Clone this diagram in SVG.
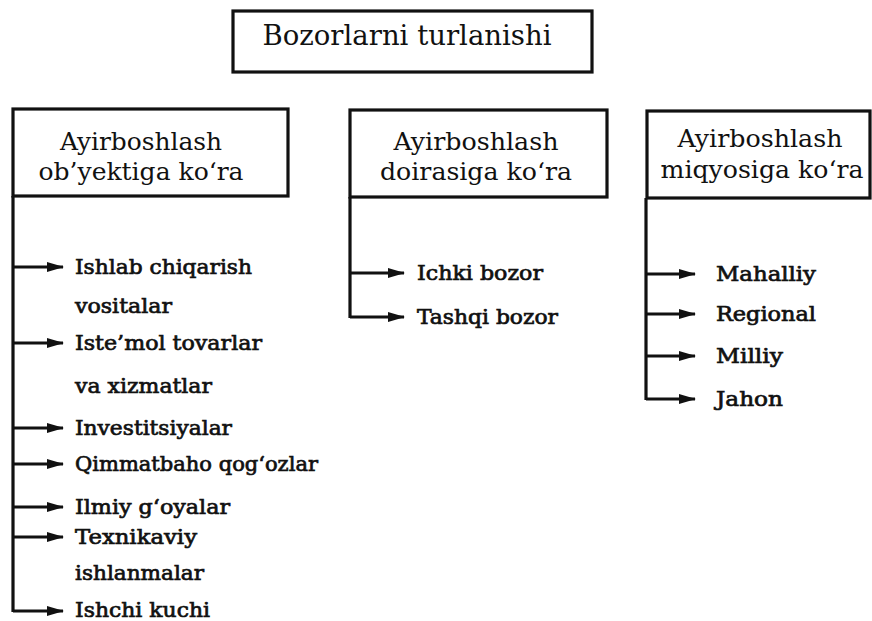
<svg xmlns="http://www.w3.org/2000/svg" width="872" height="621" viewBox="0 0 872 621">
<style>
  .box { fill: #fff; stroke: #111; stroke-width: 3.2; }
  .title { font-family: "DejaVu Serif", "Liberation Serif", serif; font-size: 27px; fill: #111; text-anchor: middle; }
  .head { font-family: "DejaVu Serif", "Liberation Serif", serif; font-size: 24px; fill: #111; text-anchor: middle; }
  .item { font-family: "DejaVu Serif", "Liberation Serif", serif; font-size: 21px; fill: #111; stroke: #111; stroke-width: 0.7; }
  .line { fill: none; stroke: #111; stroke-width: 3.2; }
  .arr { fill: none; stroke: #111; stroke-width: 2.8; marker-end: url(#ah); }
</style>
<defs>
  <marker id="ah" markerWidth="17" markerHeight="12" refX="16" refY="6" orient="auto" markerUnits="userSpaceOnUse">
    <path d="M0,1 L17,6 L0,11 Z" fill="#111"/>
  </marker>
</defs>
<rect width="872" height="621" fill="#fff"/>

<g id="root">
  <rect class="box" x="233" y="11" width="359" height="61"/>
  <text class="title" x="407" y="45" textLength="289" lengthAdjust="spacingAndGlyphs">Bozorlarni turlanishi</text>
</g>

<g id="obyekt">
  <rect class="box" x="13" y="109" width="275" height="87"/>
  <text class="head" x="141" y="150" textLength="162" lengthAdjust="spacingAndGlyphs">Ayirboshlash</text>
  <text class="head" x="141" y="180" textLength="205" lengthAdjust="spacingAndGlyphs">ob’yektiga ko‘ra</text>
</g>

<g id="doira">
  <rect class="box" x="350" y="110" width="257" height="87"/>
  <text class="head" x="476" y="150" textLength="165" lengthAdjust="spacingAndGlyphs">Ayirboshlash</text>
  <text class="head" x="476" y="180" textLength="192" lengthAdjust="spacingAndGlyphs">doirasiga ko‘ra</text>
</g>

<g id="miqyos">
  <rect class="box" x="647" y="111" width="223" height="87"/>
  <text class="head" x="760" y="147" textLength="165" lengthAdjust="spacingAndGlyphs">Ayirboshlash</text>
  <text class="head" x="762" y="178" textLength="203" lengthAdjust="spacingAndGlyphs">miqyosiga ko‘ra</text>
</g>

<g id="connectors">
  <path class="line" d="M13,196 V612"/>
  <path class="arr" d="M13,267 H63"/>
  <path class="arr" d="M13,343 H63"/>
  <path class="arr" d="M13,428 H63"/>
  <path class="arr" d="M13,464 H63"/>
  <path class="arr" d="M13,507 H63"/>
  <path class="arr" d="M13,537 H63"/>
  <path class="arr" d="M13,611 H63"/>

  <path class="line" d="M350,197 V318"/>
  <path class="arr" d="M350,273 H404"/>
  <path class="arr" d="M350,317 H404"/>

  <path class="line" d="M646,198 V400"/>
  <path class="arr" d="M646,274 H695"/>
  <path class="arr" d="M646,314 H695"/>
  <path class="arr" d="M646,356 H695"/>
  <path class="arr" d="M646,399 H695"/>
</g>

<g id="items-obyekt">
  <text class="item" x="75" y="274" textLength="177" lengthAdjust="spacingAndGlyphs">Ishlab chiqarish</text>
  <text class="item" x="75" y="313" textLength="97" lengthAdjust="spacingAndGlyphs">vositalar</text>
  <text class="item" x="75" y="350" textLength="187" lengthAdjust="spacingAndGlyphs">Iste’mol tovarlar</text>
  <text class="item" x="75" y="393" textLength="137" lengthAdjust="spacingAndGlyphs">va xizmatlar</text>
  <text class="item" x="75" y="435" textLength="157" lengthAdjust="spacingAndGlyphs">Investitsiyalar</text>
  <text class="item" x="75" y="471" textLength="243" lengthAdjust="spacingAndGlyphs">Qimmatbaho qog‘ozlar</text>
  <text class="item" x="75" y="514" textLength="155" lengthAdjust="spacingAndGlyphs">Ilmiy g‘oyalar</text>
  <text class="item" x="75" y="544" textLength="122" lengthAdjust="spacingAndGlyphs">Texnikaviy</text>
  <text class="item" x="75" y="580" textLength="129" lengthAdjust="spacingAndGlyphs">ishlanmalar</text>
  <text class="item" x="75" y="617" textLength="135" lengthAdjust="spacingAndGlyphs">Ishchi kuchi</text>
</g>

<g id="items-doira">
  <text class="item" x="417" y="280" textLength="126" lengthAdjust="spacingAndGlyphs">Ichki bozor</text>
  <text class="item" x="417" y="324" textLength="141" lengthAdjust="spacingAndGlyphs">Tashqi bozor</text>
</g>

<g id="items-miqyos">
  <text class="item" x="716" y="281" textLength="100" lengthAdjust="spacingAndGlyphs">Mahalliy</text>
  <text class="item" x="716" y="321" textLength="100" lengthAdjust="spacingAndGlyphs">Regional</text>
  <text class="item" x="716" y="363" textLength="67" lengthAdjust="spacingAndGlyphs">Milliy</text>
  <text class="item" x="716" y="406" textLength="67" lengthAdjust="spacingAndGlyphs">Jahon</text>
</g>
</svg>
